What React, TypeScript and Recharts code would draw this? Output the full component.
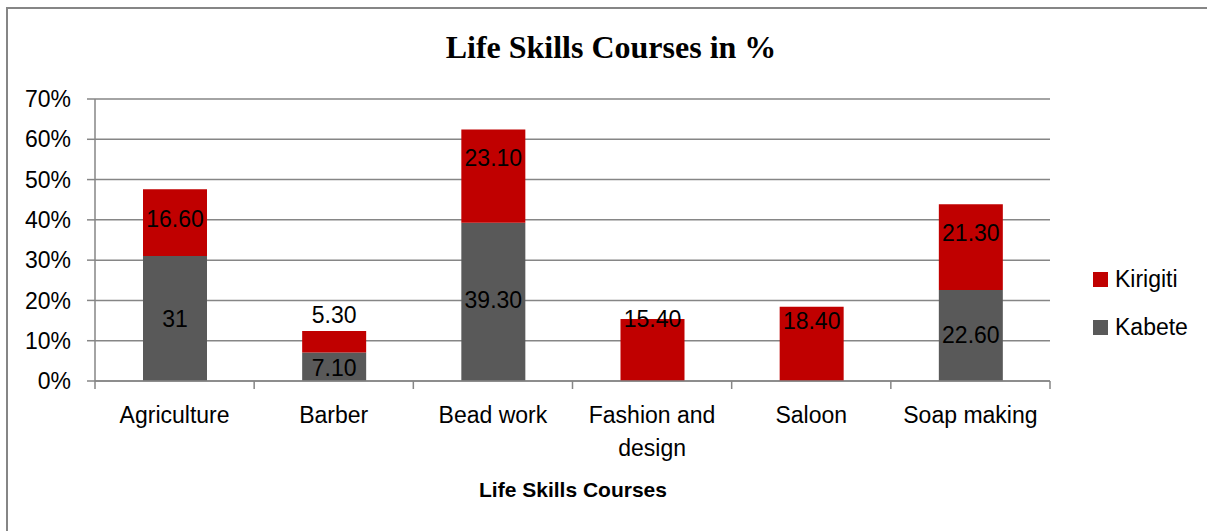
import React from 'react'
import { BarChart, Bar, XAxis, YAxis, CartesianGrid, LabelList } from 'recharts'

const categories = ['Agriculture', 'Barber', 'Bead work', 'Fashion and design', 'Saloon', 'Soap making']
const kabete = [31, 7.1, 39.3, 0, 0, 22.6]
const kirigiti = [16.6, 5.3, 23.1, 15.4, 18.4, 21.3]
const kabeteLabels = ['31', '7.10', '39.30', '', '', '22.60']
const kirigitiLabels = ['16.60', '5.30', '23.10', '15.40', '18.40', '21.30']
const yTicks = [0, 10, 20, 30, 40, 50, 60, 70]

const W = 1207
const H = 531
const PLOT_LEFT = 95
const PLOT_RIGHT = 1050
const PLOT_TOP = 99
const PLOT_BOTTOM = 381
const BAND = (PLOT_RIGHT - PLOT_LEFT) / categories.length

const GRID = '#868686'
const RED = '#C00000'
const GREY = '#595959'
const FONT = '"Liberation Sans", Arial, sans-serif'
const FS = 23

// Excel had some labels dragged off the segment centre
const kabeteDy = [0, 1, -2, 0, 0, 1]
const kirigitiDy = [-4, -27, -18, -31, -23, -14]

const data = categories.map((c, i) => ({
  name: c,
  kabete: kabete[i],
  kirigiti: kirigiti[i],
  kabeteLabel: kabeteLabels[i],
  kirigitiLabel: kirigitiLabels[i],
}))

function wrap(text: string, max = 12): string[] {
  const words = text.split(' ')
  const lines: string[] = []
  let cur = ''
  for (const w of words) {
    const next = cur ? cur + ' ' + w : w
    if (next.length > max && cur) {
      lines.push(cur)
      cur = w
    } else cur = next
  }
  if (cur) lines.push(cur)
  return lines
}

function XTick(props: any) {
  const { x, y, payload, index } = props
  const lines = wrap(String(payload.value))
  const last = index === categories.length - 1
  return (
    <g>
      <line x1={x - BAND / 2} x2={x - BAND / 2} y1={y} y2={y + 8} stroke={GRID} strokeWidth={1.5} />
      {last && <line x1={x + BAND / 2} x2={x + BAND / 2} y1={y} y2={y + 8} stroke={GRID} strokeWidth={1.5} />}
      {lines.map((l, i) => (
        <text key={i} x={x} y={y + 42 + i * 33} textAnchor="middle" fill="#000" fontSize={FS} fontFamily={FONT}>
          {l}
        </text>
      ))}
    </g>
  )
}

function makeLabel(offsets: number[]) {
  return function SegLabel(props: any) {
    const vb = props.viewBox && props.viewBox.width !== undefined ? props.viewBox : props
    const { x, y, width, height } = vb
    const { value, index } = props
    if (!value) return null
    return (
      <text
        x={x + width / 2}
        y={y + height / 2 + (offsets[index] || 0)}
        textAnchor="middle"
        dominantBaseline="central"
        fill="#000"
        fontSize={FS}
        fontFamily={FONT}
      >
        {value}
      </text>
    )
  }
}

const KabeteLabel = makeLabel(kabeteDy)
const KirigitiLabel = makeLabel(kirigitiDy)

export default function App() {
  return (
    <div style={{ position: 'absolute', left: 0, top: 0, width: W, height: H, background: '#fff', overflow: 'hidden' }}>
      <div
        style={{
          position: 'absolute',
          left: 6,
          top: 7,
          width: W,
          height: H,
          borderLeft: `2px solid ${GRID}`,
          borderTop: `2px solid ${GRID}`,
        }}
      />
      <div style={{ position: 'absolute', left: 0, top: 0 }}>
        <BarChart
          width={W}
          height={H}
          data={data}
          margin={{ top: PLOT_TOP, right: W - PLOT_RIGHT, bottom: 40, left: 35 }}
        >
          <CartesianGrid horizontal vertical={false} stroke={GRID} strokeWidth={1.5} />
          <XAxis
            dataKey="name"
            height={H - PLOT_BOTTOM - 40}
            axisLine={{ stroke: GRID, strokeWidth: 1.5 }}
            tickLine={false}
            tickSize={0}
            tickMargin={0}
            interval={0}
            tick={<XTick />}
          />
          <YAxis
            width={PLOT_LEFT - 35}
            domain={[0, 70]}
            ticks={yTicks}
            tickFormatter={(v: number) => `${v}%`}
            axisLine={{ stroke: GRID, strokeWidth: 1.5 }}
            tickLine={{ stroke: GRID, strokeWidth: 1.5 }}
            tickSize={8}
            tickMargin={16}
            tick={{ fill: '#000', fontSize: FS, fontFamily: FONT }}
            interval={0}
          />
          <Bar dataKey="kabete" stackId="a" fill={GREY} barSize={64} isAnimationActive={false}>
            <LabelList dataKey="kabeteLabel" content={<KabeteLabel />} />
          </Bar>
          <Bar dataKey="kirigiti" stackId="a" fill={RED} barSize={64} isAnimationActive={false}>
            <LabelList dataKey="kirigitiLabel" content={<KirigitiLabel />} />
          </Bar>
        </BarChart>
      </div>
      <svg width={W} height={H} style={{ position: 'absolute', left: 0, top: 0, pointerEvents: 'none' }}>
        <text
          x={611}
          y={58}
          textAnchor="middle"
          fontFamily='"Liberation Serif", "Times New Roman", serif'
          fontWeight="bold"
          fontSize={32}
          fill="#000"
        >
          Life Skills Courses in %
        </text>
        <text x={573} y={497} textAnchor="middle" fontFamily={FONT} fontWeight="bold" fontSize={21} fill="#000">
          Life Skills Courses
        </text>
        <rect x={1093} y={272} width={15} height={15} fill={RED} />
        <text x={1115} y={287} fontFamily={FONT} fontSize={FS} fill="#000">
          Kirigiti
        </text>
        <rect x={1093} y={320} width={15} height={15} fill={GREY} />
        <text x={1115} y={335} fontFamily={FONT} fontSize={FS} fill="#000">
          Kabete
        </text>
      </svg>
    </div>
  )
}
